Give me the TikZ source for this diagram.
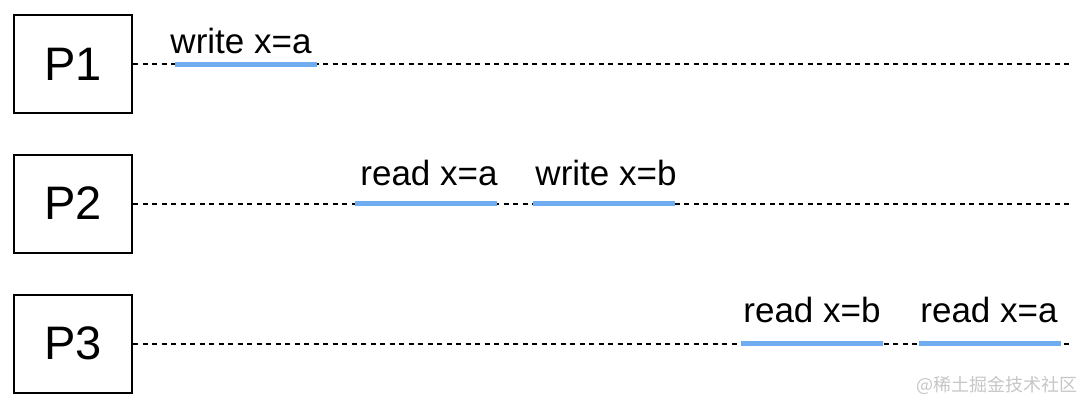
\documentclass[tikz,border=0pt]{standalone}
\usepackage{fontspec}
\setmainfont{Liberation Sans}
\newfontfamily\cjkfont{Noto Sans CJK SC}
\usepackage{xcolor}
\definecolor{opblue}{RGB}{112,172,240}

\begin{document}
\begin{tikzpicture}[x=1pt,y=-1pt,line cap=butt,
  proc/.style={draw,line width=2pt,minimum width=118pt,minimum height=98pt,inner sep=0pt,font=\fontsize{47}{47}\selectfont},
  timeline/.style={line width=2pt,dash pattern=on 5pt off 4.5pt},
  op/.style={opblue,line width=5pt},
  oplabel/.style={anchor=base,inner sep=0pt,font=\fontsize{35}{35}\selectfont}]
\useasboundingbox (0,0) rectangle (1092,408);
\node[proc] (p1) at (73,64) {P1};
\node[proc] (p2) at (73,203.5) {P2};
\node[proc] (p3) at (73,343.5) {P3};
\coordinate (e1) at (1072,64);
\coordinate (e2) at (1072,203.5);
\coordinate (e3) at (1072,343.5);
\draw[timeline] (p1.east) -- (e1);
\draw[timeline] (p2.east) -- (e2);
\draw[timeline] (p3.east) -- (e3);
\draw[op] (175,64) -- (317,64);
\node[oplabel] (w1) at (241,53) {write x=a};
\draw[op] (355,203.5) -- (497,203.5);
\node[oplabel] (r2) at (429,185) {read x=a};
\draw[op] (533,203.5) -- (675,203.5);
\node[oplabel] (w2) at (606,185) {write x=b};
\draw[op] (741,343.5) -- (883,343.5);
\node[oplabel] (r3a) at (812,322) {read x=b};
\draw[op] (919,343.5) -- (1061,343.5);
\node[oplabel] (r3b) at (989,322) {read x=a};
\node[text=gray!45,font=\cjkfont\fontsize{18}{18}\selectfont] (mark) at (997,385) {@稀土掘金技术社区};
\end{tikzpicture}
\end{document}
